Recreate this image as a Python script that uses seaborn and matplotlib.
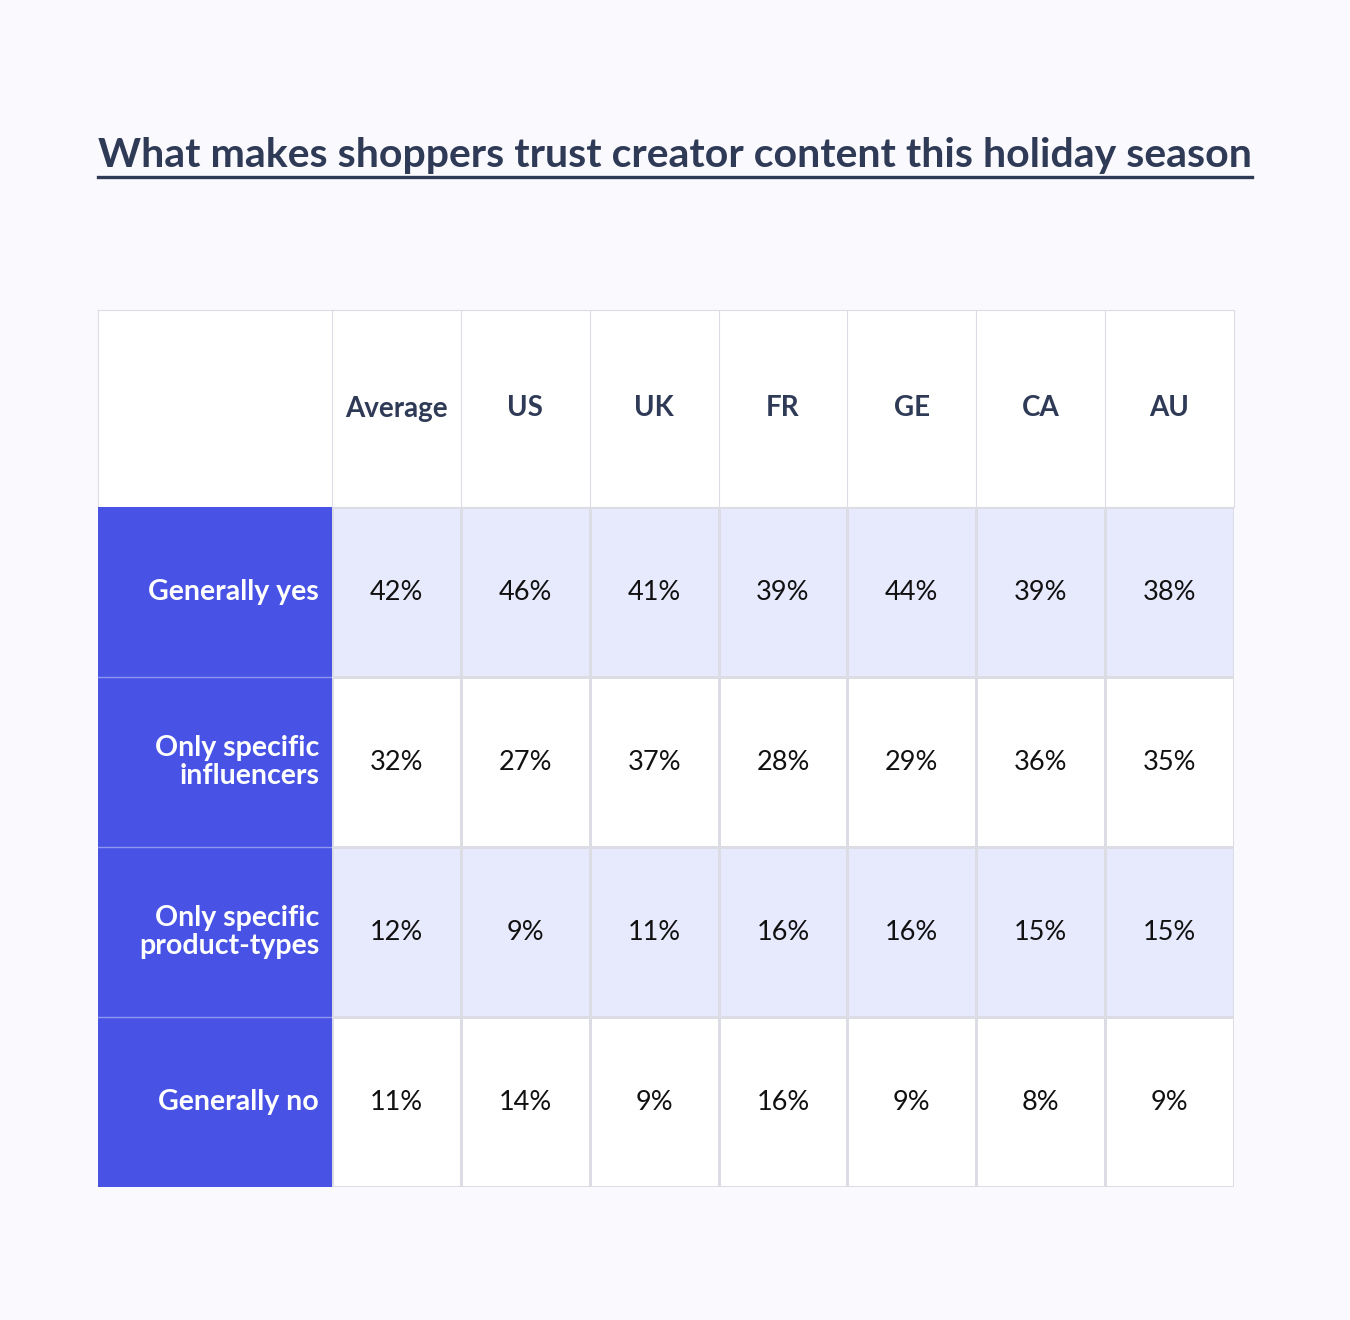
import numpy as np
import matplotlib
matplotlib.use("Agg")
import matplotlib.pyplot as plt
from matplotlib.colors import ListedColormap
from matplotlib.lines import Line2D
import seaborn as sns

columns = ["Average", "US", "UK", "FR", "GE", "CA", "AU"]
answers = ["Generally yes", "Only specific\ninfluencers", "Only specific\nproduct-types", "Generally no"]
generally_yes = [42, 46, 41, 39, 44, 39, 38]
specific_influencers = [32, 27, 37, 28, 29, 36, 35]
specific_products = [12, 9, 11, 16, 16, 15, 15]
generally_no = [11, 14, 9, 16, 9, 8, 9]

BG = "#FAF9FE"
BLUE = "#4853E6"
LIGHT = "#E7E9FD"
INK = "#2F3A56"
GRID = "#DCDCE4"
W, H = 1350, 1320

values = np.array([generally_yes, specific_influencers, specific_products, generally_no])
labels = np.vectorize(lambda v: f"{v}%")(values)
shade = np.array([[1 - i % 2] * len(columns) for i in range(len(answers))])

plt.rcParams["font.family"] = "Lato"
fig = plt.figure(figsize=(W / 100, H / 100), dpi=100, facecolor=BG)

def px_axes(x0, y0, x1, y1):
    return fig.add_axes([x0 / W, 1 - y1 / H, (x1 - x0) / W, (y1 - y0) / H])

# body
ax = px_axes(332, 507, 1234, 1187)
sns.heatmap(shade, ax=ax, cmap=ListedColormap(["white", LIGHT]), cbar=False,
            annot=labels, fmt="", annot_kws={"size": 19.5, "color": "#111111"},
            linewidths=0.8, linecolor=GRID, xticklabels=False, yticklabels=False)

# header row
hx = px_axes(332, 310, 1234, 507)
hx.set_facecolor("white")
hx.set_xlim(0, len(columns)); hx.set_ylim(0, 1)
for i, c in enumerate(columns):
    hx.text(i + 0.5, 0.5, c, ha="center", va="center", fontsize=20, fontweight="bold", color=INK)
    if i:
        hx.axvline(i, color=GRID, lw=0.8)
hx.set_xticks([]); hx.set_yticks([])
for s in hx.spines.values():
    s.set_color(GRID)

# empty corner
cx = px_axes(98, 310, 332, 507)
cx.set_facecolor("white"); cx.set_xticks([]); cx.set_yticks([])
for s in cx.spines.values():
    s.set_color(GRID)

# row labels
lx = px_axes(98, 507, 332, 1187)
lx.set_facecolor(BLUE)
lx.set_xlim(0, 1); lx.set_ylim(len(answers), 0)
for i, a in enumerate(answers):
    lx.text(0.945, i + 0.5, a, ha="right", va="center", fontsize=20.5, fontweight="bold",
            color="white", linespacing=1.1)
    if i:
        lx.axhline(i, color="#8F95F0", lw=1)
lx.set_xticks([]); lx.set_yticks([])
for s in lx.spines.values():
    s.set_visible(False)

title = fig.text(0.5, 1 - 155 / H, "What makes shoppers trust creator content this holiday season",
                 ha="center", va="center", fontsize=29.5, fontweight="bold", color=INK)
fig.canvas.draw()
bb = title.get_window_extent()
fig.add_artist(Line2D([bb.x0 / W, bb.x1 / W], [(bb.y0 - 3) / H] * 2, color=INK, lw=2.4,
                      transform=fig.transFigure))

fig.savefig("out.png", dpi=100, facecolor=BG)
